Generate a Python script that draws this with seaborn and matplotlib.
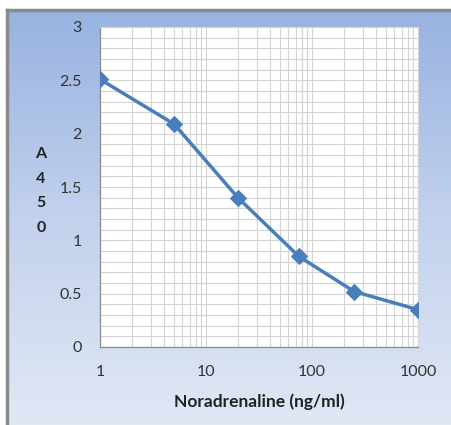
import matplotlib
matplotlib.use("Agg")
import matplotlib.pyplot as plt
import matplotlib.colors as mcolors
import numpy as np
import pandas as pd
import seaborn as sns
from matplotlib.ticker import LogLocator, MultipleLocator, FixedLocator, FixedFormatter

# data
conc = [1, 5, 20, 75, 250, 1000]
a450 = [2.51, 2.09, 1.40, 0.85, 0.52, 0.35]
x_ticks = [1, 10, 100, 1000]
x_tick_labels = ["1", "10", "100", "1000"]
y_ticks = [0, 0.5, 1, 1.5, 2, 2.5, 3]
y_tick_labels = ["0", "0.5", "1", "1.5", "2", "2.5", "3"]

df = pd.DataFrame({"conc": conc, "a450": a450})

sns.set_style("white")
plt.rcParams["font.family"] = ["Lato", "DejaVu Sans"]

W, H = 451, 425
fig = plt.figure(figsize=(W / 100, H / 100), dpi=100)
fig.patch.set_facecolor("white")

# gradient background with grey frame on left/top
bg = fig.add_axes([7 / W, 0, 1 - 7 / W, 1 - 10 / H], zorder=0)
grad = np.linspace(0, 1, 256).reshape(-1, 1)
cmap = mcolors.LinearSegmentedColormap.from_list("bg", ["#98b2e0", "#c2d1ed", "#e1e8f5"])
bg.imshow(grad, aspect="auto", cmap=cmap, extent=[0, 1, 0, 1], origin="upper")
bg.set_xticks([])
bg.set_yticks([])
for side in ["right", "bottom"]:
    bg.spines[side].set_visible(False)
for side in ["left", "top"]:
    bg.spines[side].set_color("#8a8a8a")
    bg.spines[side].set_linewidth(2.5)

ax = fig.add_axes([100 / W, 1 - 347 / H, 318 / W, 320 / H], zorder=1)
ax.set_facecolor("white")

sns.lineplot(data=df, x="conc", y="a450", ax=ax, color="#4a7ebb", linewidth=2.5,
             marker="D", markersize=8, markeredgecolor="#4a7ebb", zorder=3)

ax.set_xscale("log")
ax.set_xlim(1, 1000)
ax.set_ylim(0, 3)
ax.xaxis.set_major_locator(FixedLocator(x_ticks))
ax.xaxis.set_major_formatter(FixedFormatter(x_tick_labels))
ax.xaxis.set_minor_locator(LogLocator(base=10, subs=np.arange(2, 10)))
ax.xaxis.set_minor_formatter(plt.NullFormatter())
ax.yaxis.set_major_locator(FixedLocator(y_ticks))
ax.yaxis.set_major_formatter(FixedFormatter(y_tick_labels))
ax.yaxis.set_minor_locator(MultipleLocator(0.1))

ax.grid(True, which="both", color="#d4d4d4", linewidth=0.8)
ax.set_axisbelow(True)

for side in ["top", "right"]:
    ax.spines[side].set_color("#d4d4d4")
    ax.spines[side].set_linewidth(0.8)
for side in ["left", "bottom"]:
    ax.spines[side].set_color("#8c8c8c")
    ax.spines[side].set_linewidth(0.9)

ax.tick_params(axis="both", which="major", direction="out", length=4, width=0.8,
               color="#8c8c8c", labelsize=11.5, labelcolor="#333333")
ax.tick_params(axis="x", which="major", pad=9)
ax.tick_params(axis="y", which="major", pad=9)
ax.tick_params(axis="x", which="minor", direction="in", length=3, width=0.6, color="#8c8c8c")
ax.tick_params(axis="y", which="minor", length=0)

ax.set_xlabel("Noradrenaline (ng/ml)", fontsize=12.5, fontweight="bold", color="#222222", labelpad=10)
ax.set_ylabel("")
fig.text(41 / W, 1 - 191 / H, "A\n4\n5\n0", ha="center", va="center", fontsize=11.5,
         fontweight="bold", color="#222222", linespacing=1.95)

fig.savefig("out.png", dpi=100)
plt.close(fig)
